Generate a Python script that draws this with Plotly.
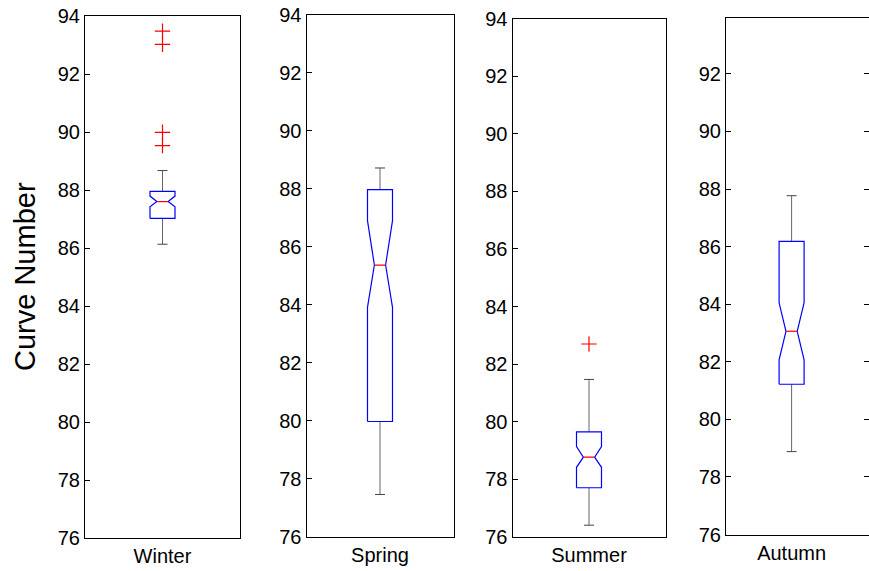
import plotly.graph_objects as go

# Seasonal curve-number statistics (notched box plots)
seasons = ["Winter", "Spring", "Summer", "Autumn"]
whisker_low = [86.13, 77.45, 76.41, 78.88]
q1 = [87.02, 79.97, 77.71, 81.22]
notch_low = [87.42, 83.91, 78.42, 82.07]
median = [87.60, 85.37, 78.77, 83.06]
notch_high = [87.79, 86.90, 79.14, 84.05]
q3 = [87.95, 87.97, 79.65, 86.18]
whisker_high = [88.67, 88.72, 81.47, 87.77]
outliers = [[93.48, 93.02, 89.99, 89.53], [], [82.70], []]

# Panel geometry in pixels (x0, x1, y_top, y_bottom)
W, H = 869, 571
panels = [(85, 240, 16, 538), (306.5, 453.5, 15, 536.5),
          (512.5, 665.5, 18.5, 537), (726, 869, 17.5, 534.5)]
y_ranges = [[76, 94], [76, 94], [76, 94], [76, 93.96]]
x_ranges = [[0.5, 1.5], [0.5, 1.5], [0.5, 1.5], [0.5, 1.59]]
y_ticks = [list(range(76, 95, 2))] * 3 + [list(range(76, 93, 2))]

BOX_PX = 25      # box width in pixels
NOTCH_FRAC = 0.45
CAP_PX = 10

font = "Arial, Liberation Sans, sans-serif"
fig = go.Figure()
layout = {}

for i, name in enumerate(seasons):
    x0, x1, yt, yb = panels[i]
    xr = x_ranges[i]
    px_per_unit = (x1 - x0) / (xr[1] - xr[0])
    hw = BOX_PX / 2 / px_per_unit
    nw = hw * NOTCH_FRAC
    cw = CAP_PX / 2 / px_per_unit
    c = 1.0
    sfx = "" if i == 0 else str(i + 1)
    xa, ya = "x" + sfx, "y" + sfx

    # whiskers and caps
    for lo, hi in ((whisker_low[i], q1[i]), (q3[i], whisker_high[i])):
        fig.add_trace(go.Scatter(x=[c, c], y=[lo, hi], mode="lines",
                                 line=dict(color="#666666", width=1),
                                 xaxis=xa, yaxis=ya, hoverinfo="skip"))
    for v in (whisker_low[i], whisker_high[i]):
        fig.add_trace(go.Scatter(x=[c - cw, c + cw], y=[v, v], mode="lines",
                                 line=dict(color="#444444", width=1),
                                 xaxis=xa, yaxis=ya, hoverinfo="skip"))

    # notched box outline
    bx = [c - hw, c - hw, c - nw, c - hw, c - hw, c + hw, c + hw, c + nw,
          c + hw, c + hw, c - hw]
    by = [q1[i], notch_low[i], median[i], notch_high[i], q3[i], q3[i],
          notch_high[i], median[i], notch_low[i], q1[i], q1[i]]
    fig.add_trace(go.Scatter(x=bx, y=by, mode="lines",
                             line=dict(color="#0000ff", width=1.2),
                             xaxis=xa, yaxis=ya, hoverinfo="skip"))
    # median line
    fig.add_trace(go.Scatter(x=[c - nw, c + nw], y=[median[i], median[i]],
                             mode="lines", line=dict(color="#ff0000", width=1.2),
                             xaxis=xa, yaxis=ya, hoverinfo="skip"))
    # outliers
    if outliers[i]:
        fig.add_trace(go.Scatter(x=[c] * len(outliers[i]), y=outliers[i],
                                 mode="markers",
                                 marker=dict(symbol="cross-thin", size=11,
                                             line=dict(color="#ff0000", width=1.2)),
                                 xaxis=xa, yaxis=ya, hoverinfo="skip"))

    axis_common = dict(showline=True, linecolor="black", linewidth=1,
                       showgrid=False, zeroline=False, automargin=False)
    layout["xaxis" + sfx] = dict(
        axis_common, mirror=True, domain=[x0 / W, x1 / W], range=xr,
        anchor=ya, tickvals=[c], ticktext=[name], ticks="",
        tickfont=dict(family=font, size=20, color="black"))
    layout["yaxis" + sfx] = dict(
        axis_common, mirror=True if i < 3 else "ticks",
        domain=[1 - yb / H, 1 - yt / H], range=y_ranges[i],
        anchor=xa, tickvals=y_ticks[i], ticks="inside", ticklen=5,
        tickcolor="black",
        tickfont=dict(family=font, size=20, color="black"))

fig.update_layout(
    **layout,
    width=W, height=H,
    margin=dict(l=0, r=0, t=0, b=0),
    plot_bgcolor="white", paper_bgcolor="white",
    showlegend=False,
    annotations=[dict(text="Curve Number", x=25 / W, y=1 - 277 / H,
                      xref="paper", yref="paper", textangle=-90,
                      showarrow=False, xanchor="center", yanchor="middle",
                      font=dict(family=font, size=29, color="black"))],
)

fig.write_html("out.html")
